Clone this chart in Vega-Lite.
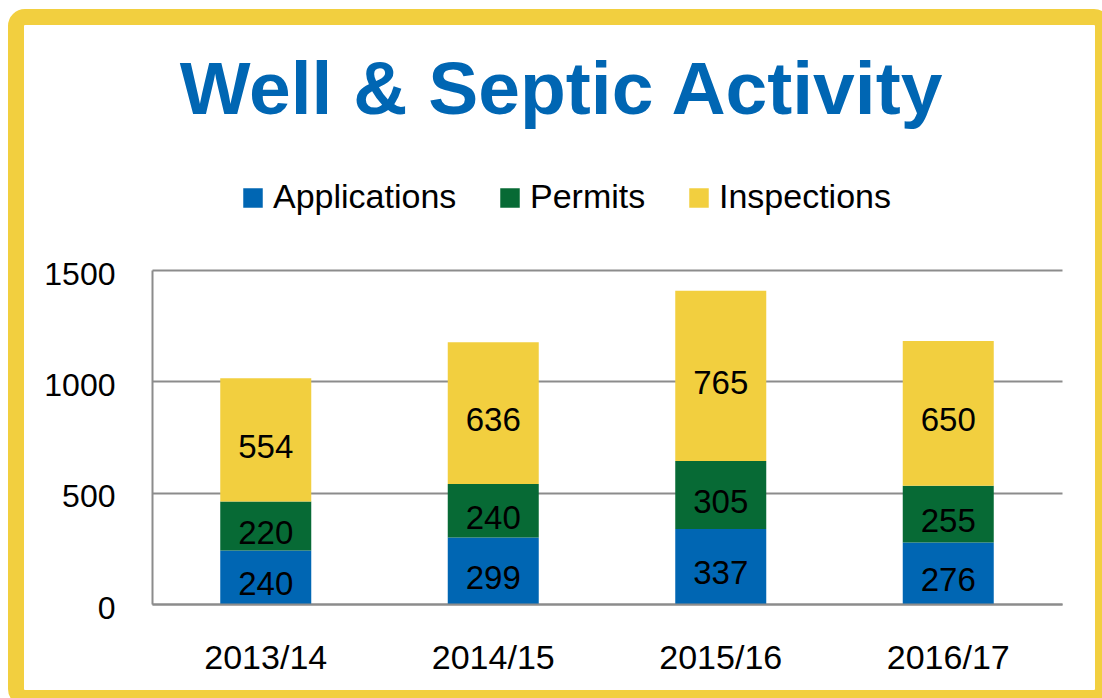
{
  "$schema": "https://vega.github.io/schema/vega-lite/v6.json",
  "width": 910,
  "height": 334,
  "autosize": {"type": "none"},
  "padding": {"left": 152, "top": 270, "right": 40, "bottom": 94},
  "background": "white",
  "title": {
    "text": "Well & Septic Activity",
    "font": "Liberation Sans",
    "fontSize": 75,
    "fontWeight": "bold",
    "color": "#0066b3",
    "anchor": "middle",
    "baseline": "alphabetic",
    "offset": 0,
    "dx": -46,
    "dy": 180
  },
  "data": {
    "values": [
      {"year": "2013/14", "series": "Applications", "value": 240},
      {"year": "2013/14", "series": "Permits", "value": 220},
      {"year": "2013/14", "series": "Inspections", "value": 554},
      {"year": "2014/15", "series": "Applications", "value": 299},
      {"year": "2014/15", "series": "Permits", "value": 240},
      {"year": "2014/15", "series": "Inspections", "value": 636},
      {"year": "2015/16", "series": "Applications", "value": 337},
      {"year": "2015/16", "series": "Permits", "value": 305},
      {"year": "2015/16", "series": "Inspections", "value": 765},
      {"year": "2016/17", "series": "Applications", "value": 276},
      {"year": "2016/17", "series": "Permits", "value": 255},
      {"year": "2016/17", "series": "Inspections", "value": 650}
    ]
  },
  "transform": [
    {"calculate": "indexof(['Applications', 'Permits', 'Inspections'], datum.series)", "as": "stackOrder"}
  ],
  "encoding": {
    "x": {
      "field": "year",
      "type": "nominal",
      "scale": {"paddingInner": 0.6, "paddingOuter": 0.3},
      "axis": {
        "title": null,
        "labelAngle": 0,
        "labelFont": "Liberation Sans",
        "labelFontSize": 34,
        "labelColor": "black",
        "labelPadding": 37,
        "ticks": false,
        "domainColor": "#8c8c8c",
        "domainWidth": 2,
        "grid": false,
        "zindex": 1
      }
    },
    "order": {"field": "stackOrder", "type": "quantitative", "sort": "ascending"}
  },
  "layer": [
    {
      "mark": {"type": "bar"},
      "encoding": {
        "y": {
          "field": "value",
          "type": "quantitative",
          "stack": "zero",
          "scale": {"domain": [0, 1500], "nice": false},
          "axis": {
            "title": null,
            "values": [0, 500, 1000, 1500],
            "format": "d",
            "labelFont": "Liberation Sans",
            "labelFontSize": 32,
            "labelColor": "black",
            "labelPadding": 37,
            "labelOffset": 4,
            "ticks": false,
            "domainColor": "#8c8c8c",
            "domainWidth": 2,
            "gridColor": "#8c8c8c",
            "gridWidth": 2
          }
        },
        "color": {
          "field": "series",
          "type": "nominal",
          "sort": ["Applications", "Permits", "Inspections"],
          "scale": {
            "domain": ["Applications", "Permits", "Inspections"],
            "range": ["#0066b3", "#076a35", "#f2cf3f"]
          },
          "legend": {
            "title": null,
            "orient": "none",
            "direction": "horizontal",
            "legendX": 84,
            "legendY": -89,
            "padding": 0,
            "symbolType": "square",
            "symbolSize": 380,
            "symbolStrokeWidth": 0,
            "labelFont": "Liberation Sans",
            "labelFontSize": 34,
            "labelColor": "black",
            "labelOffset": 3,
            "labelLimit": 0,
            "columnPadding": 36
          }
        }
      }
    },
    {
      "mark": {"type": "text", "font": "Liberation Sans", "fontSize": 33, "color": "black", "baseline": "middle", "dy": 8},
      "encoding": {
        "y": {"field": "value", "type": "quantitative", "stack": "zero", "bandPosition": 0.5},
        "detail": {"field": "series", "type": "nominal"},
        "text": {"field": "value", "type": "quantitative"}
      }
    },
    {
      "data": {"values": [{}]},
      "mark": {"type": "rect", "fill": null, "stroke": "#f2cf3f", "strokeWidth": 16, "cornerRadius": 9},
      "encoding": {
        "x": {"value": -136},
        "x2": {"value": 951},
        "y": {"value": -253},
        "y2": {"value": 428}
      }
    }
  ],
  "config": {
    "view": {"stroke": null}
  }
}
